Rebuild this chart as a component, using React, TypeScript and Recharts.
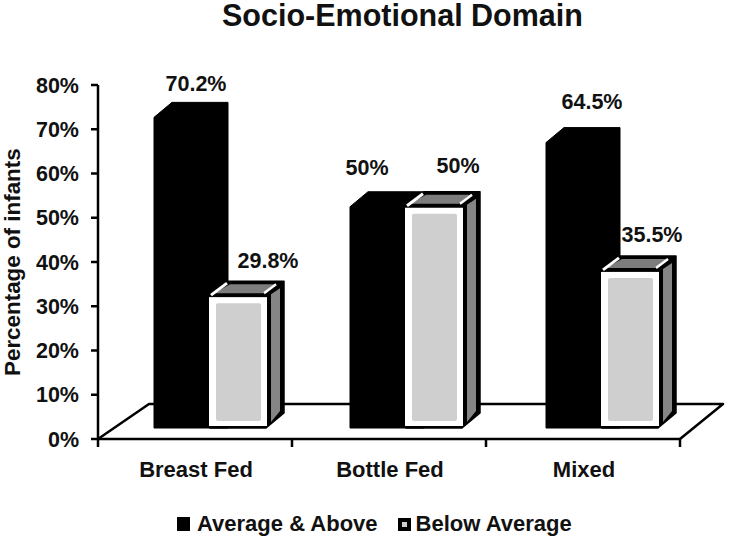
import React from 'react';
import { Bar, BarChart, LabelList, Legend, XAxis, YAxis, usePlotArea } from 'recharts';

const categories = ['Breast Fed', 'Bottle Fed', 'Mixed'];
const averageAbove = [70.2, 50, 64.5];
const belowAverage = [29.8, 50, 35.5];
const averageLabels = ['70.2%', '50%', '64.5%'];
const belowLabels = ['29.8%', '50%', '35.5%'];
const yTicks = [0, 10, 20, 30, 40, 50, 60, 70, 80];

const chartData = categories.map((name, i) => ({
  name,
  average: averageAbove[i],
  below: belowAverage[i],
}));

const FONT = '"Liberation Sans", Arial, sans-serif';
const SHIFT_X = 24; // the bars sit right of the band centre
const SPREAD = 2; // groups are a touch further apart than the bands
const LIFT = 11; // front of the floor is above the axis line
const DEPTH_X = 18;
const DEPTH_Y = 15;

// label nudges, the source chart placed these by hand
const averageNudge = [
  { dx: 5, dy: -18 },
  { dx: -18, dy: -24 },
  { dx: 13, dy: -26 },
];
const belowNudge = [
  { dx: 21, dy: -20 },
  { dx: 17, dy: -26 },
  { dx: 17, dy: -21 },
];

const poly = (pts: number[][]) => pts.map((p) => p.join(',')).join(' ');

const DarkBar = (props: any) => {
  const { x, y, width, height, index } = props;
  const left = x + SHIFT_X + SPREAD * index;
  const top = y - LIFT;
  const base = y + height - LIFT;
  const points = [
    [left, top],
    [left + DEPTH_X, top - DEPTH_Y],
    [left + width, top - DEPTH_Y],
    [left + width, base],
    [left, base],
  ];
  return <polygon points={poly(points)} fill="#000" stroke="#000" strokeLinejoin="round" />;
};

const LightBar = (props: any) => {
  const { x, y, width, height, index } = props;
  const left = x + SHIFT_X + SPREAD * index;
  const top = y - LIFT;
  const base = y + height - LIFT;
  const fw = width - DEPTH_X;
  const right = left + fw;
  return (
    <g>
      {/* outline of the top and side */}
      <polygon
        points={poly([
          [left, top],
          [left + DEPTH_X, top - DEPTH_Y],
          [right + DEPTH_X, top - DEPTH_Y],
          [right + DEPTH_X, base - DEPTH_Y],
          [right, base],
          [left, base],
        ])}
        fill="#000"
        stroke="#000"
        strokeWidth={1.5}
        strokeLinejoin="round"
      />
      <polygon
        points={poly([
          [left + 4, top - 3],
          [left + DEPTH_X + 2, top - DEPTH_Y + 3],
          [right + 8, top - DEPTH_Y + 3],
          [right - 3, top - 3],
        ])}
        fill="#7d7d7d"
      />
      <polyline
        points={poly([
          [left + 1, top - 1],
          [left + DEPTH_X - 1, top - DEPTH_Y + 2],
        ])}
        fill="none"
        stroke="#fff"
        strokeWidth={3}
      />
      <polyline
        points={poly([
          [right - 2, top - 3],
          [right + 10, top - DEPTH_Y + 3],
        ])}
        fill="none"
        stroke="#fff"
        strokeWidth={2.5}
      />
      <polygon
        points={poly([
          [right + 5, top - 2],
          [right + DEPTH_X - 4, top - DEPTH_Y + 7],
          [right + DEPTH_X - 4, base - DEPTH_Y - 2],
          [right + 5, base - 6],
        ])}
        fill="#858585"
      />
      {/* front face */}
      <rect x={left - 1} y={top + 1} width={fw + 2} height={base - top - 3} fill="#fff" />
      <rect x={left + 6} y={top + 7} width={fw - 11} height={base - top - 14} rx={2} fill="#cfcfcf" />
    </g>
  );
};

const makeLabel = (texts: string[], nudges: { dx: number; dy: number }[]) => (props: any) => {
  const { x, y, width, index } = props;
  return (
    <text
      x={x + SHIFT_X + width / 2 + nudges[index].dx}
      y={y - LIFT + nudges[index].dy - DEPTH_Y + 7}
      textAnchor="middle"
      fontFamily={FONT}
      fontWeight="bold"
      fontSize={21.5}
      fill="#111"
    >
      {texts[index]}
    </text>
  );
};

const Floor = () => {
  const plot = usePlotArea();
  if (!plot) return null;
  const zero = plot.y + plot.height;
  const backY = zero - 35;
  const backLeft = plot.x + 51;
  const right = plot.x + plot.width;
  return (
    <polyline
      points={`${plot.x},${zero} ${backLeft},${backY} ${right + 43},${backY} ${right},${zero}`}
      fill="none"
      stroke="#000"
      strokeWidth={2.5}
      strokeLinejoin="round"
    />
  );
};

const CategoryTick = (props: any) => {
  const { x, y, payload, index } = props;
  const half = 97;
  return (
    <g>
      {index === 0 && <line x1={x - half} x2={x - half} y1={y - 8} y2={y} stroke="#000" strokeWidth={2.5} />}
      <line x1={x + half} x2={x + half} y1={y - 8} y2={y} stroke="#000" strokeWidth={2.5} />
      <text x={x + 1} y={y + 30} textAnchor="middle" fontFamily={FONT} fontWeight="bold" fontSize={22} fill="#111">
        {payload.value}
      </text>
    </g>
  );
};

const LegendBox = () => (
  <div
    style={{
      display: 'flex',
      alignItems: 'center',
      height: 30,
      fontFamily: FONT,
      fontWeight: 'bold',
      fontSize: 22,
      color: '#111',
      whiteSpace: 'nowrap',
    }}
  >
    <span style={{ width: 13, height: 14, background: '#000', marginLeft: 177, marginRight: 7 }} />
    <span>Average &amp; Above</span>
    <span
      style={{
        width: 5,
        height: 5,
        background: '#cfcfcf',
        border: '4px solid #000',
        marginLeft: 20,
        marginRight: 5,
      }}
    />
    <span>Below Average</span>
  </div>
);

export default function App() {
  return (
    <div style={{ position: 'absolute', left: 0, top: 0, width: 734, height: 542, background: '#fff' }}>
      <div
        style={{
          position: 'absolute',
          left: 222,
          top: 0,
          lineHeight: '30px',
          fontFamily: FONT,
          fontWeight: 'bold',
          fontSize: 30.5,
          color: '#111',
          whiteSpace: 'nowrap',
        }}
      >
        Socio-Emotional Domain
      </div>
      <BarChart
        width={734}
        height={542}
        data={chartData}
        margin={{ top: 85, right: 54, bottom: 3, left: 0 }}
        barSize={74}
        barGap={-18}
        style={{ position: 'absolute', left: 0, top: 0 }}
      >
        <Floor />
        <XAxis
          dataKey="name"
          height={70}
          axisLine={{ stroke: '#000', strokeWidth: 2.5 }}
          tickLine={false}
          tick={<CategoryTick />}
          interval={0}
        />
        <YAxis
          width={98}
          domain={[0, 80]}
          ticks={yTicks}
          interval={0}
          tickFormatter={(v: number) => `${v}%`}
          axisLine={{ stroke: '#000', strokeWidth: 2.5 }}
          tickLine={{ stroke: '#000', strokeWidth: 2.5 }}
          tickSize={7}
          tickMargin={12}
          tick={{ fontFamily: FONT, fontWeight: 'bold', fontSize: 21.5, fill: '#111' }}
          label={{
            value: 'Percentage of infants',
            angle: -90,
            position: 'insideLeft',
            offset: 0,
            dx: 12,
            dy: 114,
            style: { fontFamily: FONT, fontWeight: 'bold', fontSize: 22.4, fill: '#111' },
          }}
        />
        <Legend verticalAlign="bottom" align="left" height={30} content={<LegendBox />} />
        <Bar dataKey="average" name="Average & Above" fill="#000" shape={<DarkBar />} isAnimationActive={false}>
          <LabelList dataKey="average" content={makeLabel(averageLabels, averageNudge)} />
        </Bar>
        <Bar dataKey="below" name="Below Average" fill="#cfcfcf" shape={<LightBar />} isAnimationActive={false}>
          <LabelList dataKey="below" content={makeLabel(belowLabels, belowNudge)} />
        </Bar>
      </BarChart>
    </div>
  );
}
